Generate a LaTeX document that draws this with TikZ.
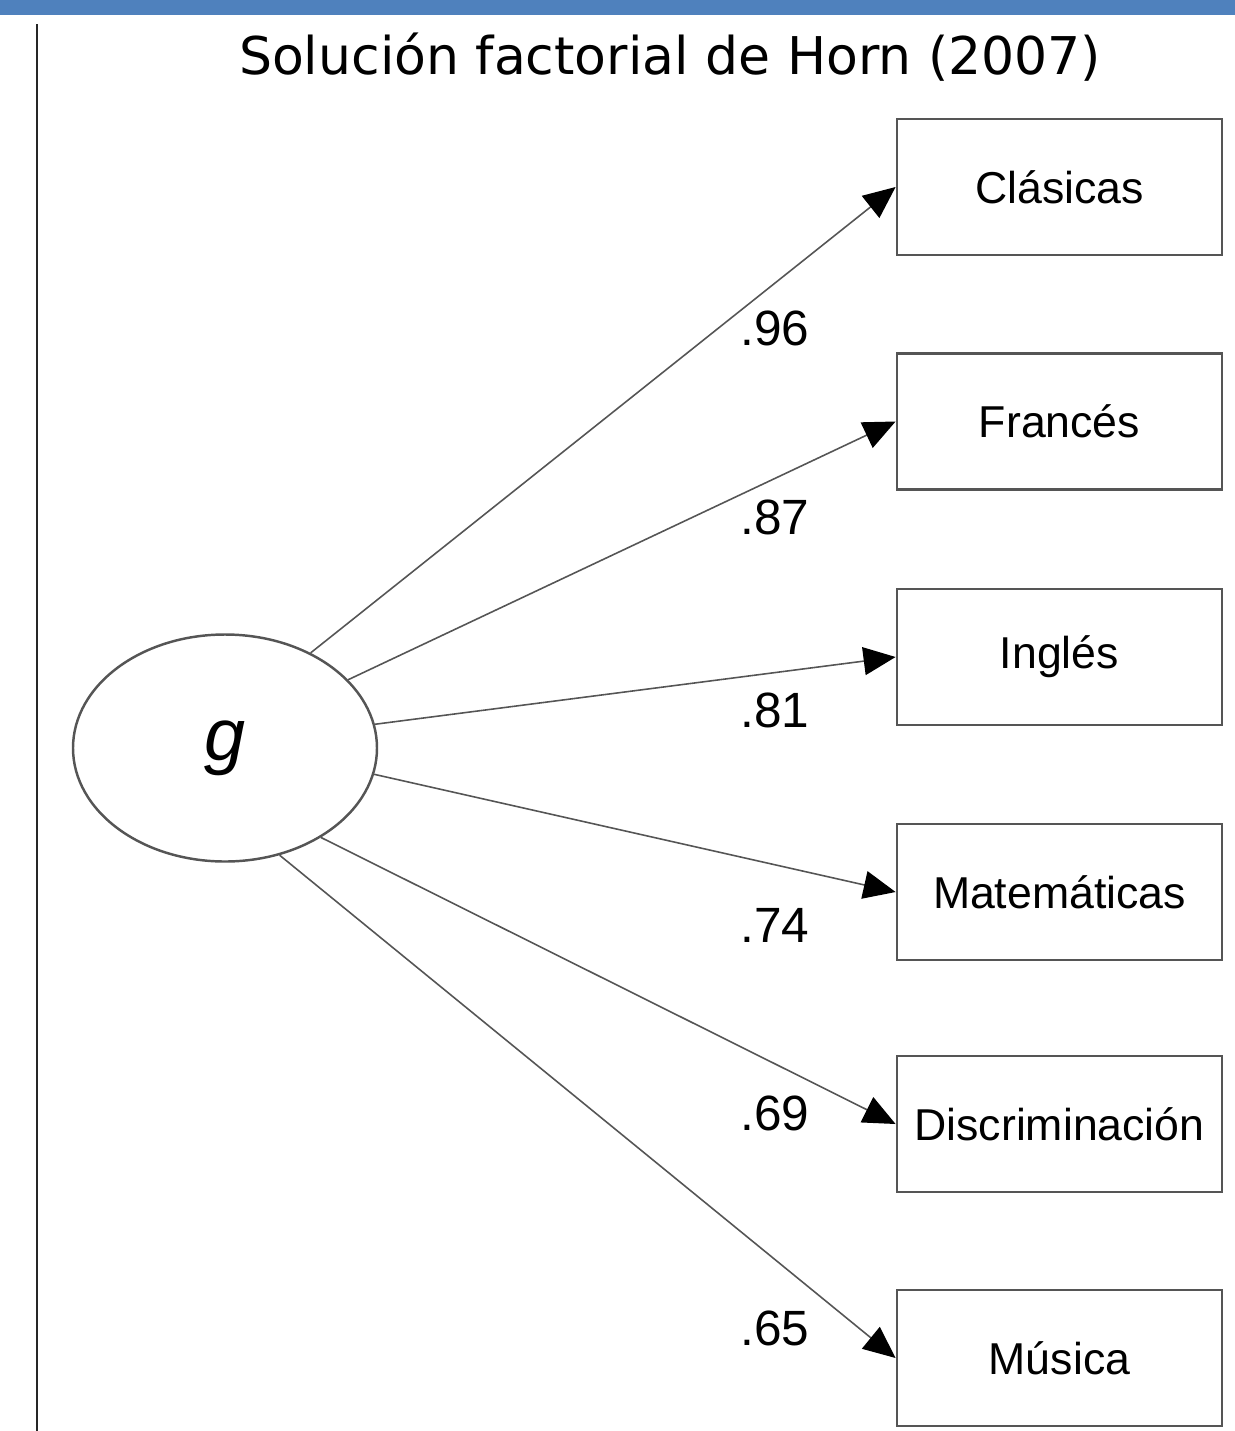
\documentclass[tikz,border=0pt]{standalone}
\usepackage{fontspec}
\setmainfont{Liberation Sans}
\newfontfamily\titlefont{DejaVu Sans}
\usetikzlibrary{arrows.meta,shapes.geometric}
\definecolor{barblue}{RGB}{79,129,189}
\definecolor{boxgray}{RGB}{85,85,85}
\begin{document}
\begin{tikzpicture}[
  latent/.style={draw=boxgray, line width=0.7pt, ellipse, minimum width=3.04cm, minimum height=2.27cm, inner sep=0pt, font=\fontsize{21}{24}\selectfont\itshape},
  manifest/.style={draw=boxgray, line width=0.8pt, rectangle, minimum width=3.25cm, minimum height=1.36cm, inner sep=0pt, font=\fontsize{12.7}{15}\selectfont},
  load/.style={draw=boxgray, line width=0.45pt, -{Triangle[length=3.2mm,width=2.8mm,color=black]}},
  loading/.style={font=\fontsize{14.1}{16}\selectfont}
]
\useasboundingbox (0,0) rectangle (12.35,-14.31);
  \fill[barblue] (0,0) rectangle (12.35,-0.15);
  \draw[black!85, line width=0.6pt] (0.37,-0.24) -- (0.37,-14.31);

  \node[font=\titlefont\fontsize{14.8}{18}\selectfont] (title) at (6.70,-0.57) {Solución factorial de Horn (2007)};

  \node[latent] (g) at (2.25,-7.48) {g};

  \node[manifest] (clas) at (10.595,-1.87)  {Clásicas};
  \node[manifest] (fran) at (10.595,-4.215) {Francés};
  \node[manifest] (ingl) at (10.595,-6.57)  {Inglés};
  \node[manifest] (mate) at (10.595,-8.92)  {Matemáticas};
  \node[manifest] (disc) at (10.595,-11.24) {Discriminación};
  \node[manifest] (musi) at (10.595,-13.58) {Música};

  \draw[load] (g.48)  -- (clas.west);
  \draw[load] (g.29)  -- (fran.west);
  \draw[load] (g.9)   -- (ingl.west);
  \draw[load] (g.-10) -- (mate.west);
  \draw[load] (g.-43) -- (disc.west);
  \draw[load] (g.-63) -- (musi.west);

  \node[loading] (l96) at (7.75,-3.28)  {.96};
  \node[loading] (l87) at (7.75,-5.17)  {.87};
  \node[loading] (l81) at (7.75,-7.10)  {.81};
  \node[loading] (l74) at (7.75,-9.25)  {.74};
  \node[loading] (l69) at (7.75,-11.13) {.69};
  \node[loading] (l65) at (7.75,-13.28) {.65};
\end{tikzpicture}
\end{document}
